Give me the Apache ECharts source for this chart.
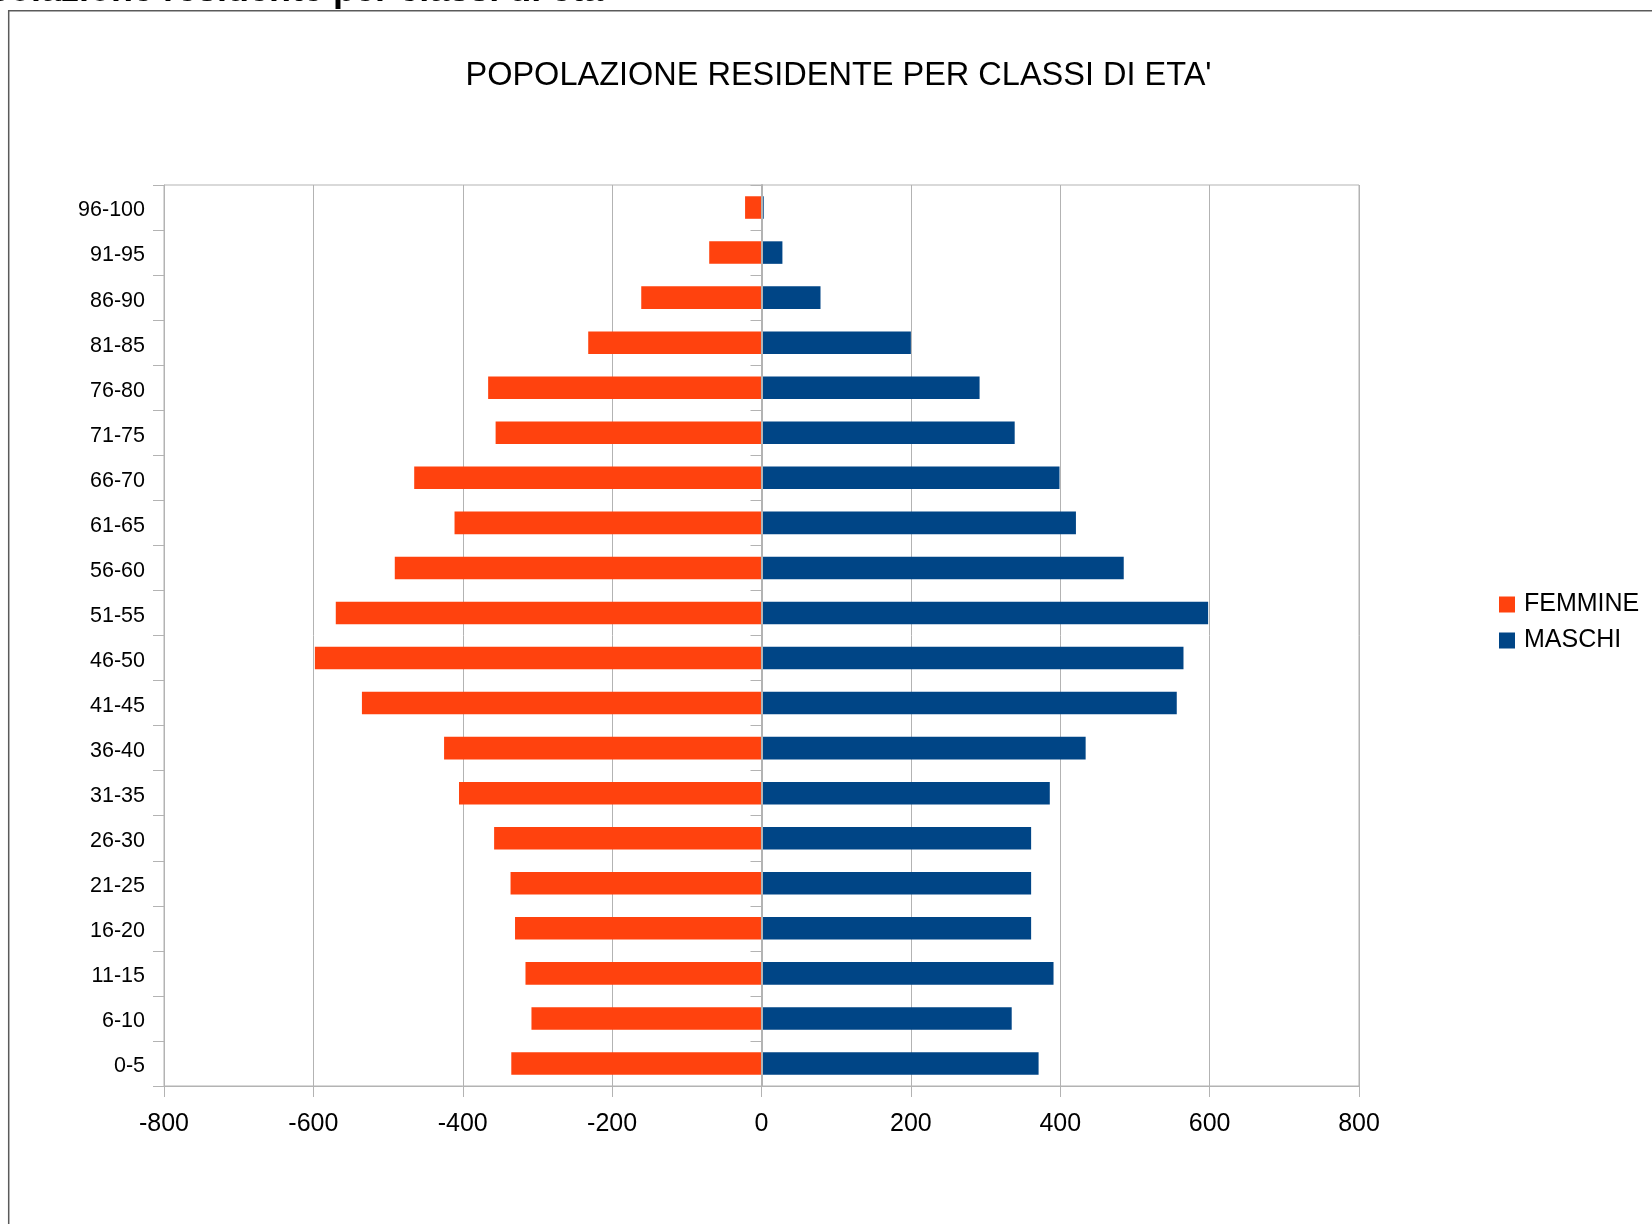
<!DOCTYPE html>
<html>
<head>
<meta charset="utf-8">
<script src="https://cdn.jsdelivr.net/npm/echarts@6/dist/echarts.min.js"></script>
<style>
html,body{margin:0;padding:0;background:#fff;}
#chart{width:1652px;height:1224px;}
</style>
</head>
<body>
<div id="chart"></div>
<script>
// Age classes, bottom to top
const ageClasses = ['0-5','6-10','11-15','16-20','21-25','26-30','31-35','36-40','41-45','46-50','51-55','56-60','61-65','66-70','71-75','76-80','81-85','86-90','91-95','96-100'];
// FEMMINE (drawn to the left, negative)
const femmine = [-335,-308,-316,-330,-336,-358,-405,-425,-535,-598,-570,-491,-411,-465,-356,-366,-232,-161,-70,-22];
// MASCHI (drawn to the right)
const maschi = [371,335,391,361,361,361,386,434,556,565,598,485,421,399,339,292,200,79,28,3];
const seriesNames = ['FEMMINE','MASCHI'];
const titleText = "POPOLAZIONE RESIDENTE PER CLASSI DI ETA'";
const sheetHeading = 'Popolazione residente per classi di età';

const FONT = 'Liberation Sans, Arial, sans-serif';
const GRID_COLOR = '#b3b3b3';

const chart = echarts.init(document.getElementById('chart'), null, {renderer:'canvas'});
chart.setOption({
  backgroundColor: '#ffffff',
  animation: false,
  graphic: [
    {type:'text', x: -59, y: -9.2, z: 10,
     style:{text: sheetHeading, font: 'bold 36px ' + FONT, fill:'#000', align:'left', verticalAlign:'middle'}},
    {type:'polyline', z: 10, shape:{points:[[8.7,1224],[8.7,10.7],[1652,10.7]]},
     style:{stroke:'#5a5a5a', lineWidth:1.5, fill:null}},
    {type:'text', x: 838.5, y: 76, z: 10,
     style:{text: titleText, font: '32.5px ' + FONT, fill:'#000', align:'center', verticalAlign:'middle'}}
  ],
  color: ['#ff420e', '#004586'],
  legend: {
    data: seriesNames,
    orient: 'vertical',
    left: 1499, top: 592,
    padding: 0,
    itemWidth: 16, itemHeight: 16, itemGap: 11,
    icon: 'rect',
    textStyle: {fontSize: 25, color:'#000', fontFamily: FONT, padding:[0,0,0,4]}
  },
  grid: {
    left: 164, right: 293, top: 185, bottom: 138,
    show: true, borderColor: GRID_COLOR, borderWidth: 1, backgroundColor: 'transparent'
  },
  xAxis: {
    type: 'value', min: -800, max: 800, interval: 200,
    axisLine: {show:true, onZero:false, lineStyle:{color:GRID_COLOR, width:1}},
    axisTick: {show:true, length:11, lineStyle:{color:GRID_COLOR}},
    axisLabel: {fontSize: 25, color:'#000', fontFamily: FONT, margin: 26},
    splitLine: {show:true, lineStyle:{color:GRID_COLOR, width:1}}
  },
  yAxis: [
    {
      type: 'category', data: ageClasses, position: 'left',
      axisLine: {show:true, onZero:false, lineStyle:{color:GRID_COLOR, width:1}},
      axisTick: {show:true, length:11, lineStyle:{color:GRID_COLOR}},
      axisLabel: {fontSize: 21.5, color:'#000', fontFamily: FONT, margin: 19, verticalAlign:'top', lineHeight: 6},
      splitLine: {show:false}
    },
    {
      type: 'category', data: ageClasses, position: 'left', z: 10,
      axisLine: {show:true, onZero:true, lineStyle:{color:GRID_COLOR, width:2}},
      axisTick: {show:true, length:11, lineStyle:{color:GRID_COLOR}},
      axisLabel: {show:false},
      splitLine: {show:false}
    }
  ],
  series: [
    {name: seriesNames[0], type:'bar', stack:'pop', data: femmine, barCategoryGap:'50%', yAxisIndex:0},
    {name: seriesNames[1], type:'bar', stack:'pop', data: maschi, barCategoryGap:'50%', yAxisIndex:0}
  ]
});
</script>
</body>
</html>
